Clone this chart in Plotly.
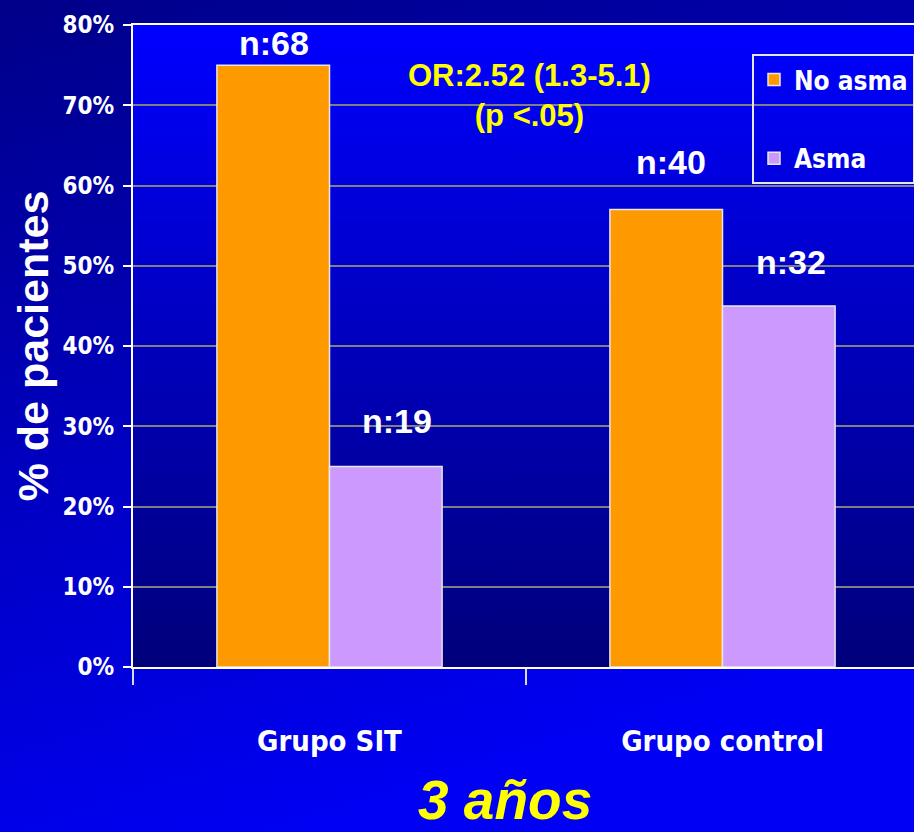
import base64
import plotly.graph_objects as go

# Data
groups = ["Grupo SIT", "Grupo control"]
no_asma = [75, 57]
asma = [25, 45]
n_no_asma = ["n:68", "n:40"]
n_asma = ["n:19", "n:32"]
y_ticks = [0, 10, 20, 30, 40, 50, 60, 70, 80]
y_tick_text = ["%d%%" % v for v in y_ticks]

W, H = 914, 832
ML, MR, MT, MB = 133, 0, 25, 165
PW, PH = W - ML - MR, H - MT - MB

NARROW = "Liberation Sans Narrow, Arial Narrow, DejaVu Sans Condensed, sans-serif"
SANS = "Liberation Sans, Arial, sans-serif"


def gradient_uri(x2, y2, c0, c1):
    svg = (
        '<svg xmlns="http://www.w3.org/2000/svg" width="100" height="100" '
        'viewBox="0 0 100 100" preserveAspectRatio="none">'
        '<defs><linearGradient id="g" x1="0" y1="0" x2="%s" y2="%s">'
        '<stop offset="0" stop-color="%s"/><stop offset="1" stop-color="%s"/>'
        '</linearGradient></defs>'
        '<rect width="100" height="100" fill="url(#g)"/></svg>'
    ) % (x2, y2, c0, c1)
    return "data:image/svg+xml;base64," + base64.b64encode(svg.encode()).decode()


fig = go.Figure()
fig.add_trace(go.Bar(
    x=groups, y=no_asma, name="No asma", legendgroup="a",
    marker=dict(color="#FF9900", line=dict(color="#E6E6E6", width=1.5)),
))
fig.add_trace(go.Bar(
    x=groups, y=asma, name="Asma", legendgroup="b",
    marker=dict(color="#CC99FF", line=dict(color="#E6E6E6", width=1.5)),
))

# Count labels above the bars
label_style = {
    "No asma": dict(xshift=[-56, -52], yshift=[22, 48]),
    "Asma": dict(xshift=[67, 68], yshift=[45, 44]),
}
for name, vals, labels in (("No asma", no_asma, n_no_asma), ("Asma", asma, n_asma)):
    st = label_style[name]
    for i, (g, v, t) in enumerate(zip(groups, vals, labels)):
        fig.add_annotation(
            x=g, y=v, text=t, showarrow=False,
            xshift=st["xshift"][i], yshift=st["yshift"][i],
            font=dict(family=SANS, size=34, color="white", weight="bold"),
        )

fig.add_annotation(
    x=0.51, y=71.2, xref="x", yref="y", showarrow=False,
    text="OR:2.52 (1.3-5.1)<br>(p <.05)",
    font=dict(family=SANS, size=31, color="#FFFF00", weight="bold"),
)

fig.add_annotation(
    x=(505 - ML) / PW, y=-(800 - (H - MB)) / PH, xref="paper", yref="paper",
    xanchor="center", yanchor="middle",
    showarrow=False, text="3 años",
    font=dict(family=SANS, size=55, color="#FFFF00", weight="bold", style="italic"),
)

fig.update_layout(
    width=W, height=H,
    margin=dict(l=ML, r=MR, t=MT, b=MB, autoexpand=False),
    paper_bgcolor="#0000C0", plot_bgcolor="rgba(0,0,0,0)",
    barmode="group", bargap=0.427, bargroupgap=0,
    showlegend=True,
    legend=dict(
        x=(752 - ML) / PW, y=(H - MB - 54) / PH, xanchor="left", yanchor="top",
        bgcolor="rgba(0,0,0,0)", bordercolor="#E6E6E6", borderwidth=2,
        font=dict(family=NARROW, size=26, color="white", weight="bold"),
        itemwidth=30,
        traceorder="grouped", tracegroupgap=42,
    ),
    images=[
        dict(source=gradient_uri(0.35, 1, "#000088", "#0000F4"),
             xref="paper", yref="paper", x=-ML / PW, y=(H - MB) / PH,
             sizex=W / PW, sizey=H / PH, sizing="stretch", layer="below",
             xanchor="left", yanchor="top"),
        dict(source=gradient_uri(0, 1, "#0000FF", "#00007A"),
             xref="paper", yref="paper", x=0, y=1, sizex=1, sizey=1,
             sizing="stretch", layer="below", xanchor="left", yanchor="top"),
    ],
    xaxis=dict(
        range=[-0.5, -0.5 + PW / 393], tickson="boundaries",
        ticks="outside", ticklen=16, tickwidth=2, tickcolor="#D8D8F0",
        showline=True, linecolor="white", linewidth=2, mirror=True,
        showgrid=False, zeroline=False,
        tickfont=dict(family=NARROW, size=29, color="white", weight="bold"),
        ticklabelstandoff=47,
    ),
    yaxis=dict(
        range=[0, 80], tickmode="array", tickvals=y_ticks, ticktext=y_tick_text,
        ticks="outside", ticklen=8, tickwidth=2, tickcolor="white",
        showline=True, linecolor="white", linewidth=2, mirror=False,
        showgrid=True, gridcolor="#808080", gridwidth=2, zeroline=False,
        tickfont=dict(family=NARROW, size=24, color="white", weight="bold"),
        ticklabelstandoff=4,
        title=dict(text="% de pacientes", standoff=0,
                   font=dict(family=SANS, size=43, color="white", weight="bold")),
    ),
)

fig.write_html("out.html")
